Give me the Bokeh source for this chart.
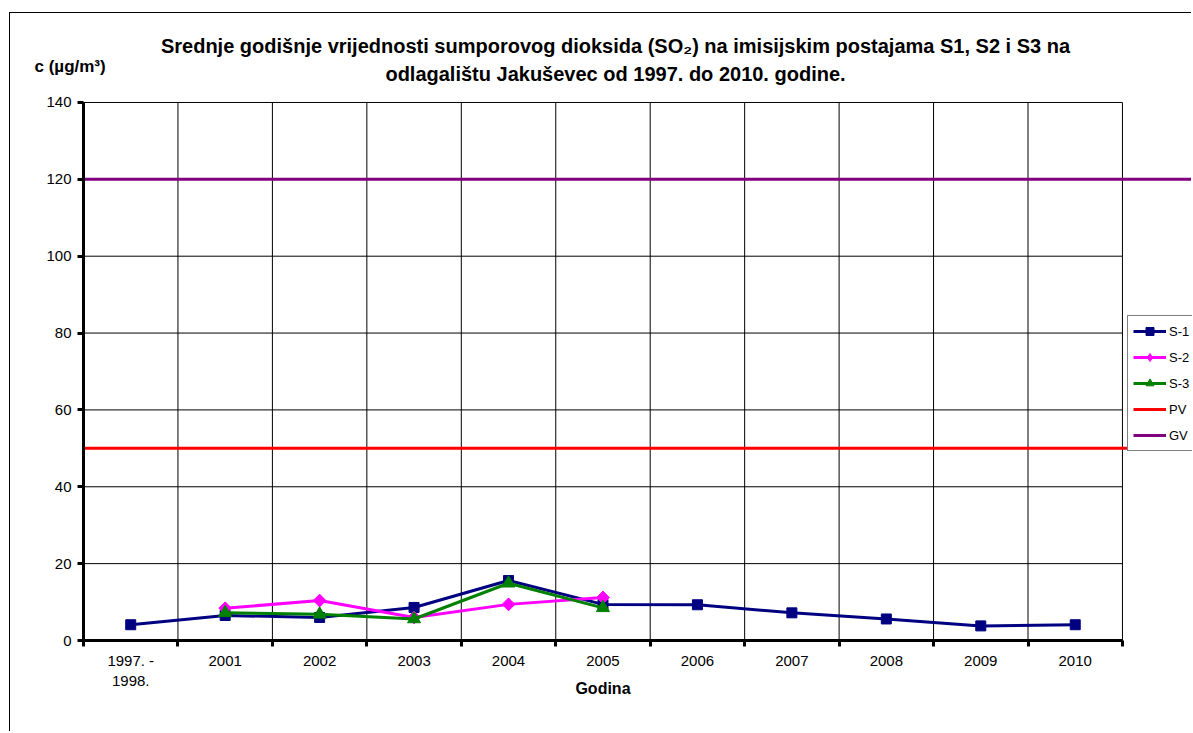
from bokeh.plotting import figure
from bokeh.models import Range1d, FixedTicker, Label, Legend
from bokeh.embed import file_html
from bokeh.resources import INLINE

# ---- data ----
categories = ["1997. -\n1998.", "2001", "2002", "2003", "2004", "2005",
              "2006", "2007", "2008", "2009", "2010"]
s1_values = [4.1, 6.5, 6.0, 8.6, 15.6, 9.4, 9.3, 7.2, 5.6, 3.8, 4.1]
s2_cats = ["2001", "2002", "2003", "2004", "2005"]
s2_values = [8.4, 10.4, 6.0, 9.4, 11.2]
s3_cats = ["2001", "2002", "2003", "2004", "2005"]
s3_values = [7.2, 6.8, 5.6, 14.9, 8.5]
pv_value = 50
gv_value = 120
y_ticks = [0, 20, 40, 60, 80, 100, 120, 140]

FONT = "Liberation Sans"
n = len(categories)
pos = {c: i + 0.5 for i, c in enumerate(categories)}
s1_x = [pos[c] for c in categories]
s2_x = [pos[c] for c in s2_cats]
s3_x = [pos[c] for c in s3_cats]

# ---- layout (page pixels) ----
W, H = 1182, 719
OFF_X, OFF_Y = 10, 13          # canvas origin on page (margin + border)
AX_X, AX_Y = 83, 640           # page position of data origin
PX_PER_CAT = 94.45
PX_PER_UNIT = 3.843

def dx(px):
    return (px - AX_X) / PX_PER_CAT

def dy(py):
    return (AX_Y - py) / PX_PER_UNIT

x_start, x_end = dx(OFF_X), dx(OFF_X + W)
y_start, y_end = dy(OFF_Y + H), dy(OFF_Y)

p = figure(width=W, height=H, output_backend="svg", toolbar_location=None,
           x_range=Range1d(x_start, x_end), y_range=Range1d(y_start, y_end),
           min_border_left=0, min_border_top=0, min_border_bottom=0,
           min_border_right=0)
p.styles = {"margin-left": "9px", "margin-top": "12px",
            "border-left": "1px solid black", "border-top": "1px solid black"}
p.outline_line_color = None
p.background_fill_color = "white"
p.border_fill_color = "white"
p.title.visible = False

# axes
xa = p.xaxis[0]
xa.fixed_location = 0
xa.ticker = FixedTicker(ticks=s1_x, minor_ticks=list(range(n + 1)))
xa.major_label_overrides = {pos[c]: c for c in categories}
xa.bounds = (0, n)
xa.axis_line_width = 3
xa.axis_line_color = "black"
xa.major_tick_in = 0
xa.major_tick_out = 0
xa.minor_tick_in = 0
xa.minor_tick_out = 6
xa.minor_tick_line_width = 3
xa.minor_tick_line_color = "black"
xa.major_label_standoff = 5
xa.major_label_text_font = FONT
xa.major_label_text_font_size = "15px"
xa.major_label_text_color = "black"

ya = p.yaxis[0]
ya.fixed_location = 0
ya.ticker = FixedTicker(ticks=y_ticks)
ya.bounds = (0, 140)
ya.axis_line_width = 3
ya.axis_line_color = "black"
ya.major_tick_in = 0
ya.major_tick_out = 6
ya.major_tick_line_width = 3
ya.minor_tick_out = 0
ya.minor_tick_in = 0
ya.major_label_standoff = 6
ya.major_label_text_font = FONT
ya.major_label_text_font_size = "15px"
ya.major_label_text_color = "black"

# grids (plot area only)
p.xgrid.visible = False
p.ygrid.visible = False
p.segment(x0=list(range(n + 1)), x1=list(range(n + 1)), y0=0, y1=y_ticks[-1],
          line_color="black", line_width=1, level="underlay")
p.segment(x0=0, x1=n, y0=y_ticks, y1=y_ticks, line_color="black",
          line_width=1, level="underlay")

# series
r_pv = p.segment(x0=0, x1=x_end, y0=pv_value, y1=pv_value, line_color="#FF0000", line_width=3)
r_gv = p.segment(x0=0, x1=x_end, y0=gv_value, y1=gv_value, line_color="#800080", line_width=3)

l1 = p.line(s1_x, s1_values, line_color="#000080", line_width=3)
m1 = p.scatter(s1_x, s1_values, marker="square", size=10, color="#000080")
l2 = p.line(s2_x, s2_values, line_color="#FF00FF", line_width=3)
m2_key = p.scatter(s2_x, s2_values, marker="diamond", size=12, color="#FF00FF")
m2 = p.scatter(s2_x, s2_values, marker="square", angle=0.785398, size=9, color="#FF00FF")
l3 = p.line(s3_x, s3_values, line_color="#008000", line_width=3)
m3 = p.scatter(s3_x, s3_values, marker="triangle", size=13, color="#008000")

legend = Legend(items=[("S-1", [l1, m1]), ("S-2", [l2, m2_key]), ("S-3", [l3, m3]),
                       ("PV", [r_pv]), ("GV", [r_gv])],
                location=(1127 - OFF_X, OFF_Y + H - 451))
legend.label_text_font = FONT
legend.label_text_font_size = "13px"
legend.label_text_color = "black"
legend.glyph_width = 33
legend.glyph_height = 20
legend.label_height = 20
legend.spacing = 6
legend.padding = 5
legend.margin = 0
legend.label_standoff = 3
legend.border_line_color = "black"
legend.border_line_width = 1
legend.background_fill_color = "white"
legend.background_fill_alpha = 1
p.add_layout(legend, "center")

# texts
title1 = "Srednje godišnje vrijednosti sumporovog dioksida (SO₂) na imisijskim postajama S1, S2 i S3 na"
title2 = "odlagalištu Jakuševec od 1997. do 2010. godine."
for txt, py in [(title1, 45), (title2, 73)]:
    p.add_layout(Label(x=dx(615), y=dy(py), text=txt, text_align="center",
                       text_baseline="middle", text_font=FONT,
                       text_font_size="20px", text_font_style="bold",
                       text_color="black"))
p.add_layout(Label(x=dx(34), y=dy(66), text="c (µg/m³)", text_align="left",
                   text_baseline="middle", text_font=FONT, text_font_size="17px",
                   text_font_style="bold", text_color="black"))
p.add_layout(Label(x=(0 + n) / 2, y=dy(688), text="Godina", text_align="center",
                   text_baseline="middle", text_font=FONT, text_font_size="16px",
                   text_font_style="bold", text_color="black"))

open("out.html", "w").write(file_html(p, INLINE))
